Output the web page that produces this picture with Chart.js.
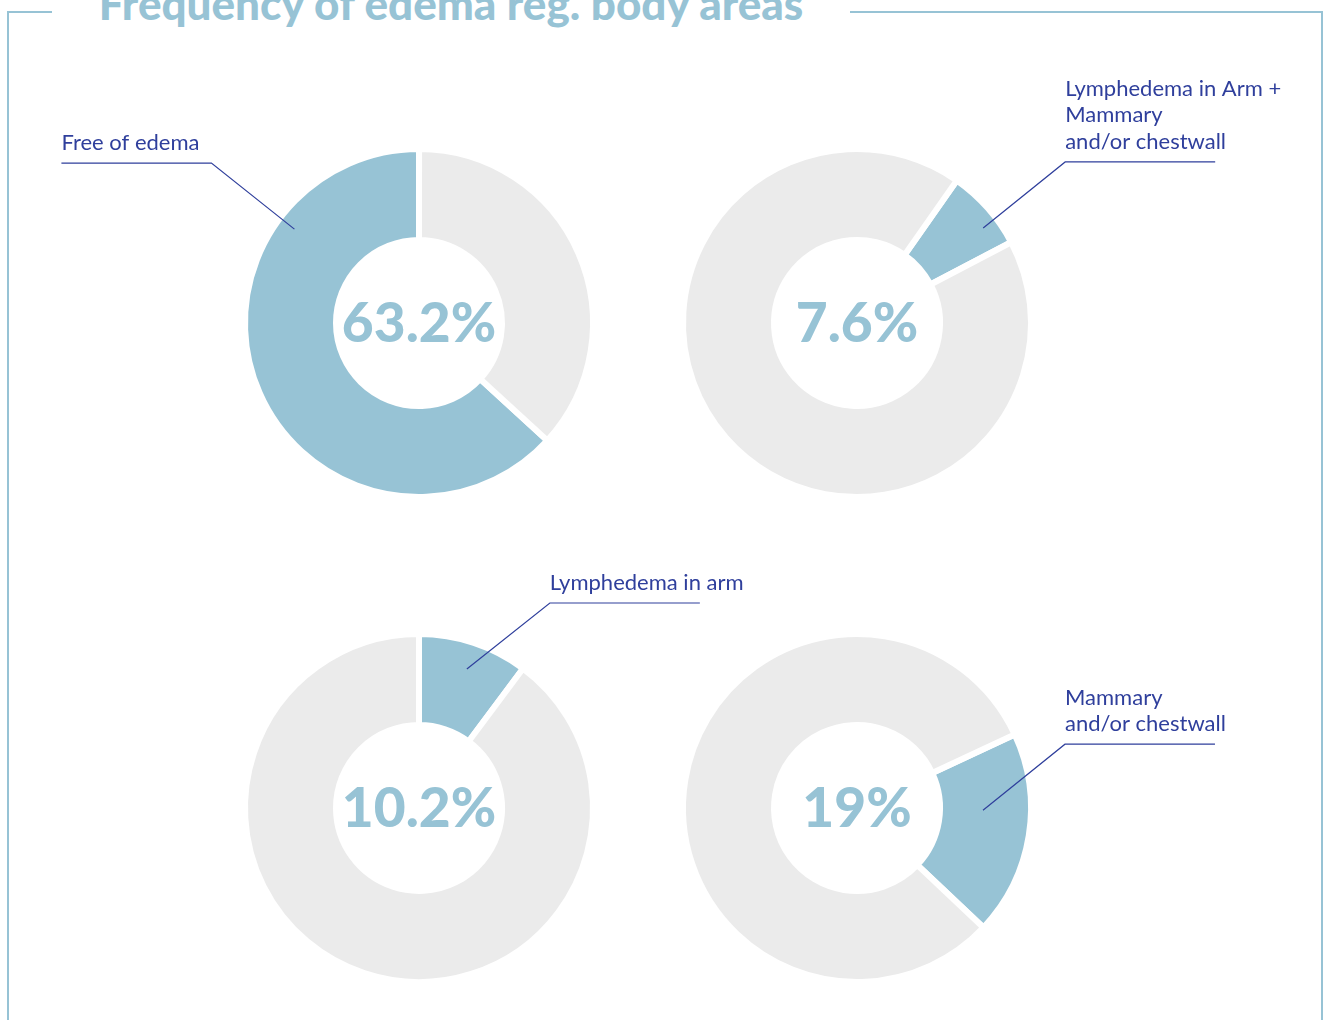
<!DOCTYPE html>
<html>
<head>
<meta charset="utf-8">
<script src="https://cdn.jsdelivr.net/npm/chart.js@4.4.0/dist/chart.umd.min.js"></script>
<style>
  html, body { margin: 0; padding: 0; background: #ffffff; overflow: hidden; }
  #page { position: relative; width: 1323px; height: 1020px; }
  #frame {
    position: absolute; left: 7px; top: 11px; width: 1316px; height: 1100px;
    border: 2px solid #97c3d5; box-sizing: border-box;
  }
  #title {
    position: absolute; left: 52px; top: -25px; width: 798px; height: 56px;
    background: #ffffff; text-align: center;
    font-family: Lato, sans-serif; font-weight: 900; font-size: 44px; color: #97c3d5;
    line-height: 56px; white-space: nowrap;
  }
  canvas { position: absolute; left: 0; top: 0; }
</style>
</head>
<body>
<div id="page">
  <div id="frame"></div>
  <div id="title">Frequency of edema reg. body areas</div>
  <canvas id="c1" width="1323" height="1020"></canvas>
  <canvas id="c2" width="1323" height="1020"></canvas>
  <canvas id="c3" width="1323" height="1020"></canvas>
  <canvas id="c4" width="1323" height="1020"></canvas>
</div>
<script>
// Datos de los cuatro anillos
const categories = ['Free of edema', 'Lymphedema in Arm + Mammary and/or chestwall', 'Lymphedema in arm', 'Mammary and/or chestwall'];
const shares = [63.2, 7.6, 10.2, 19];
const centerLabels = ['63.2%', '7.6%', '10.2%', '19%'];
const labelLines = [
  ['Free of edema'],
  ['Lymphedema in Arm +', 'Mammary', 'and/or chestwall'],
  ['Lymphedema in arm'],
  ['Mammary', 'and/or chestwall']
];

const BLUE = '#97c3d5';
const GREY = '#ebebeb';
const NAVY = '#2f3f9c';
const W = 1323, H = 1020;

// posición de cada anillo y de su línea guía
const layouts = [
  { id: 'c1', cx: 419, cy: 323, rotation: 132.5, anchorAngle: 307, anchorR: 156, elbow: [-83, -66], side: -1 },
  { id: 'c2', cx: 857, cy: 323, rotation: 35,    anchorAngle: 53,  anchorR: 158, elbow: [82, -66],  side: 1 },
  { id: 'c3', cx: 419, cy: 808, rotation: 0,     anchorAngle: 19,  anchorR: 147, elbow: [83, -66],  side: 1 },
  { id: 'c4', cx: 857, cy: 808, rotation: 65,    anchorAngle: 91,  anchorR: 126, elbow: [82, -66],  side: 1 }
];

const HALF = 177;

function drawDonut(i) {
  const lay = layouts[i];
  const ctx = document.getElementById(lay.id).getContext('2d');

  const labelPlugin = {
    id: 'labels' + i,
    afterDraw(chart) {
      const arc = chart.getDatasetMeta(0).data[0];
      const c = chart.ctx;
      c.save();
      // porcentaje central
      c.fillStyle = BLUE;
      c.font = '900 55px Lato, sans-serif';
      c.textAlign = 'center';
      c.textBaseline = 'middle';
      c.fillText(centerLabels[i], arc.x, arc.y + 1);

      // línea guía
      const a = lay.anchorAngle * Math.PI / 180;
      const ax = arc.x + lay.anchorR * Math.sin(a);
      const ay = arc.y - lay.anchorR * Math.cos(a);
      const ex = ax + lay.elbow[0];
      const ey = ay + lay.elbow[1];
      const hx = ex + lay.side * 150;
      c.strokeStyle = NAVY;
      c.lineWidth = 1.2;
      c.beginPath();
      c.moveTo(ax, ay);
      c.lineTo(ex, ey);
      c.lineTo(hx, ey);
      c.stroke();

      // texto de la etiqueta
      c.fillStyle = NAVY;
      c.font = '22px Lato, sans-serif';
      c.textAlign = 'left';
      c.textBaseline = 'alphabetic';
      const tx = Math.min(ex, hx);
      const lines = labelLines[i];
      lines.forEach((line, k) => {
        const y = ey - 13 - (lines.length - 1 - k) * 26.5;
        c.fillText(line, tx, y);
      });
      c.restore();
    }
  };

  new Chart(ctx, {
    type: 'doughnut',
    data: {
      labels: [categories[i], 'Other'],
      datasets: [{
        data: [shares[i], +(100 - shares[i]).toFixed(1)],
        backgroundColor: [BLUE, GREY],
        borderColor: '#ffffff',
        borderWidth: 6,
        hoverOffset: 0
      }]
    },
    options: {
      responsive: false,
      animation: false,
      rotation: lay.rotation,
      cutout: 83,
      layout: {
        padding: {
          left: lay.cx - HALF,
          right: W - lay.cx - HALF,
          top: lay.cy - HALF,
          bottom: H - lay.cy - HALF
        }
      },
      plugins: {
        legend: { display: false },
        tooltip: { enabled: false },
        title: { display: false }
      }
    },
    plugins: [labelPlugin]
  });
}

for (let i = 0; i < 4; i++) drawDonut(i);
</script>
</body>
</html>
